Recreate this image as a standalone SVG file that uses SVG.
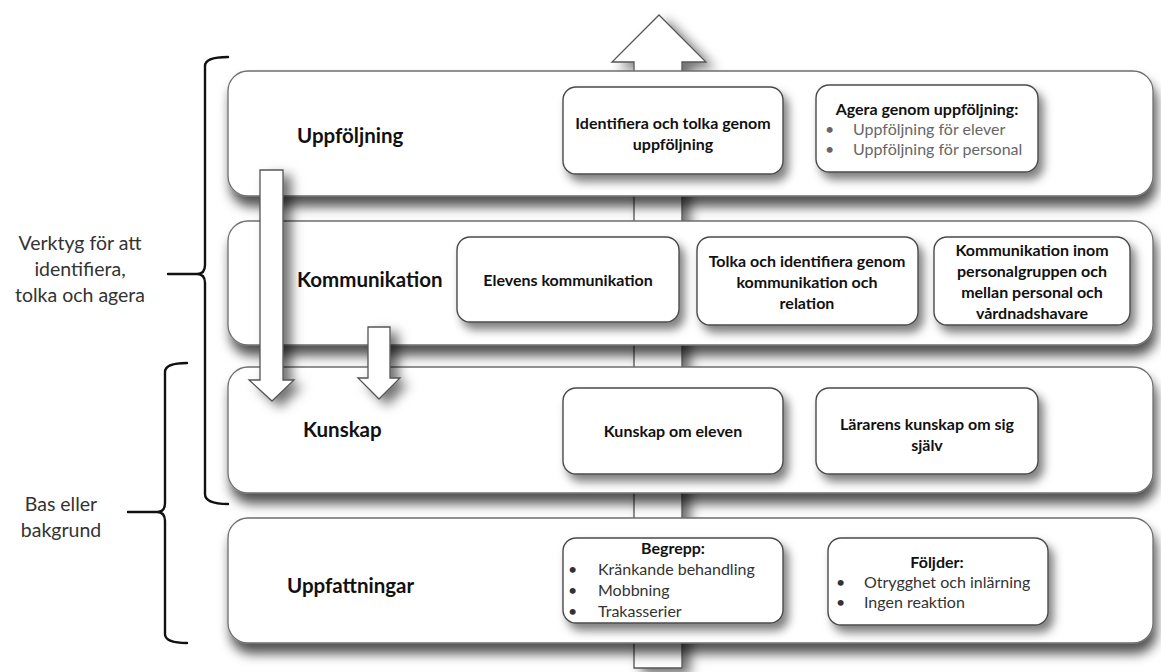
<svg xmlns="http://www.w3.org/2000/svg" width="1161" height="672" viewBox="0 0 1161 672">
<defs>
<filter id="sh" x="-10%" y="-20%" width="125%" height="170%">
<feDropShadow dx="3" dy="10" stdDeviation="6" flood-color="#000" flood-opacity="0.68"/>
</filter>
<filter id="shs" x="-20%" y="-30%" width="150%" height="180%">
<feDropShadow dx="5" dy="7" stdDeviation="5" flood-color="#000" flood-opacity="0.5"/>
</filter>
<filter id="sha" x="-50%" y="-20%" width="220%" height="150%">
<feDropShadow dx="8" dy="6" stdDeviation="6" flood-color="#000" flood-opacity="0.55"/>
</filter>
</defs>
<style>
.big{fill:#fff;stroke:#6e6e6e;stroke-width:1.3}
.inner{fill:#fff;stroke:#4a4a4a;stroke-width:1.4}
.arrow{fill:#fff;stroke:#555;stroke-width:1.3}
.brace{fill:none;stroke:#111;stroke-width:2.4;stroke-linecap:round;stroke-linejoin:round}
.h{font-family:Lato,"Liberation Sans",sans-serif;font-weight:bold;font-size:20.5px;fill:#111}
.b{font-family:Lato,"Liberation Sans",sans-serif;font-weight:bold;font-size:16px;fill:#111;text-anchor:middle}
.t{font-family:Lato,"Liberation Sans",sans-serif;font-size:16px;fill:#333}
.g{font-family:Lato,"Liberation Sans",sans-serif;font-size:16px;fill:#666}
.side{font-family:Lato,"Liberation Sans",sans-serif;font-size:19.5px;fill:#333;text-anchor:middle}
</style>
<g id="up-arrow">
<path class="arrow" filter="url(#sha)" d="M659,15 L706,62 L682,62 L682,668 L634,668 L634,62 L612,62 Z"/>
</g>
<g id="uppfoljning">
<rect class="big" filter="url(#sh)" x="228" y="71" width="925" height="125" rx="20"/>
<text class="h" x="297" y="143">Uppföljning</text>
</g>
<g id="kommunikation">
<rect class="big" filter="url(#sh)" x="228" y="221" width="925" height="124" rx="20"/>
<text class="h" x="297" y="287">Kommunikation</text>
</g>
<g id="kunskap">
<rect class="big" filter="url(#sh)" x="228" y="367" width="925" height="126" rx="20"/>
<text class="h" x="303" y="437">Kunskap</text>
</g>
<g id="uppfattningar">
<rect class="big" filter="url(#sh)" x="228" y="518" width="925" height="125" rx="20"/>
<text class="h" x="287" y="593">Uppfattningar</text>
</g>
<g id="identifiera">
<rect class="inner" filter="url(#shs)" x="563" y="87" width="220" height="87" rx="13"/>
<text class="b" x="673" y="129">Identifiera och tolka genom</text>
<text class="b" x="673" y="150">uppföljning</text>
</g>
<g id="agera">
<rect class="inner" filter="url(#shs)" x="816" y="85" width="222" height="87" rx="13"/>
<text class="b" x="927" y="115">Agera genom uppföljning:</text>
<text class="g" x="825" y="135">•</text>
<text class="g" x="853" y="135">Uppföljning för elever</text>
<text class="g" x="825" y="155">•</text>
<text class="g" x="853" y="155">Uppföljning för personal</text>
</g>
<g id="elevens">
<rect class="inner" filter="url(#shs)" x="457" y="237" width="222" height="85" rx="13"/>
<text class="b" x="568" y="286">Elevens kommunikation</text>
</g>
<g id="tolka">
<rect class="inner" filter="url(#shs)" x="697" y="237" width="221" height="88" rx="13"/>
<text class="b" x="807" y="267">Tolka och identifiera genom</text>
<text class="b" x="807" y="288">kommunikation och</text>
<text class="b" x="807" y="309">relation</text>
</g>
<g id="kommunikation-inom">
<rect class="inner" filter="url(#shs)" x="934" y="237" width="196" height="88" rx="13"/>
<text class="b" x="1032" y="256">Kommunikation inom</text>
<text class="b" x="1032" y="277">personalgruppen och</text>
<text class="b" x="1032" y="298">mellan personal och</text>
<text class="b" x="1032" y="319">vårdnadshavare</text>
</g>
<g id="kunskap-eleven">
<rect class="inner" filter="url(#shs)" x="563" y="388" width="220" height="86" rx="13"/>
<text class="b" x="673" y="437">Kunskap om eleven</text>
</g>
<g id="lararens">
<rect class="inner" filter="url(#shs)" x="816" y="388" width="222" height="86" rx="13"/>
<text class="b" x="927" y="430">Lärarens kunskap om sig</text>
<text class="b" x="927" y="451">själv</text>
</g>
<g id="begrepp">
<rect class="inner" filter="url(#shs)" x="563" y="538" width="220" height="85" rx="13"/>
<text class="b" x="673" y="554">Begrepp:</text>
<text class="t" x="568" y="575">•</text>
<text class="t" x="598" y="575">Kränkande behandling</text>
<text class="t" x="568" y="596">•</text>
<text class="t" x="598" y="596">Mobbning</text>
<text class="t" x="568" y="617">•</text>
<text class="t" x="598" y="617">Trakasserier</text>
</g>
<g id="foljder">
<rect class="inner" filter="url(#shs)" x="828" y="538" width="220" height="87" rx="13"/>
<text class="b" x="937" y="568">Följder:</text>
<text class="t" x="836" y="588">•</text>
<text class="t" x="864" y="588">Otrygghet och inlärning</text>
<text class="t" x="836" y="608">•</text>
<text class="t" x="864" y="608">Ingen reaktion</text>
</g>
<g id="connectors">
<path class="arrow" filter="url(#sha)" d="M260,170 L283,170 L283,380 L294,380 L272,401 L249,380 L260,380 Z"/>
<path class="arrow" filter="url(#sha)" d="M368,327 L390,327 L390,378 L400,378 L379,399 L358,378 L368,378 Z"/>
</g>
<g id="brace-tools">
<path class="brace" d="M228,57 Q205,57 205,66 V265 Q205,274 197,274 H168 M197,274 Q205,274 205,283 V494 Q205,504 228,504"/>
<text class="side" x="80" y="250">Verktyg för att</text>
<text class="side" x="80" y="276">identifiera,</text>
<text class="side" x="80" y="302">tolka och agera</text>
</g>
<g id="brace-base">
<path class="brace" d="M187,363 Q165,363 165,372 V503 Q165,512 157,512 H128 M157,512 Q165,512 165,521 V634 Q165,643 187,643"/>
<text class="side" x="61" y="511">Bas eller</text>
<text class="side" x="61" y="537">bakgrund</text>
</g>
</svg>
